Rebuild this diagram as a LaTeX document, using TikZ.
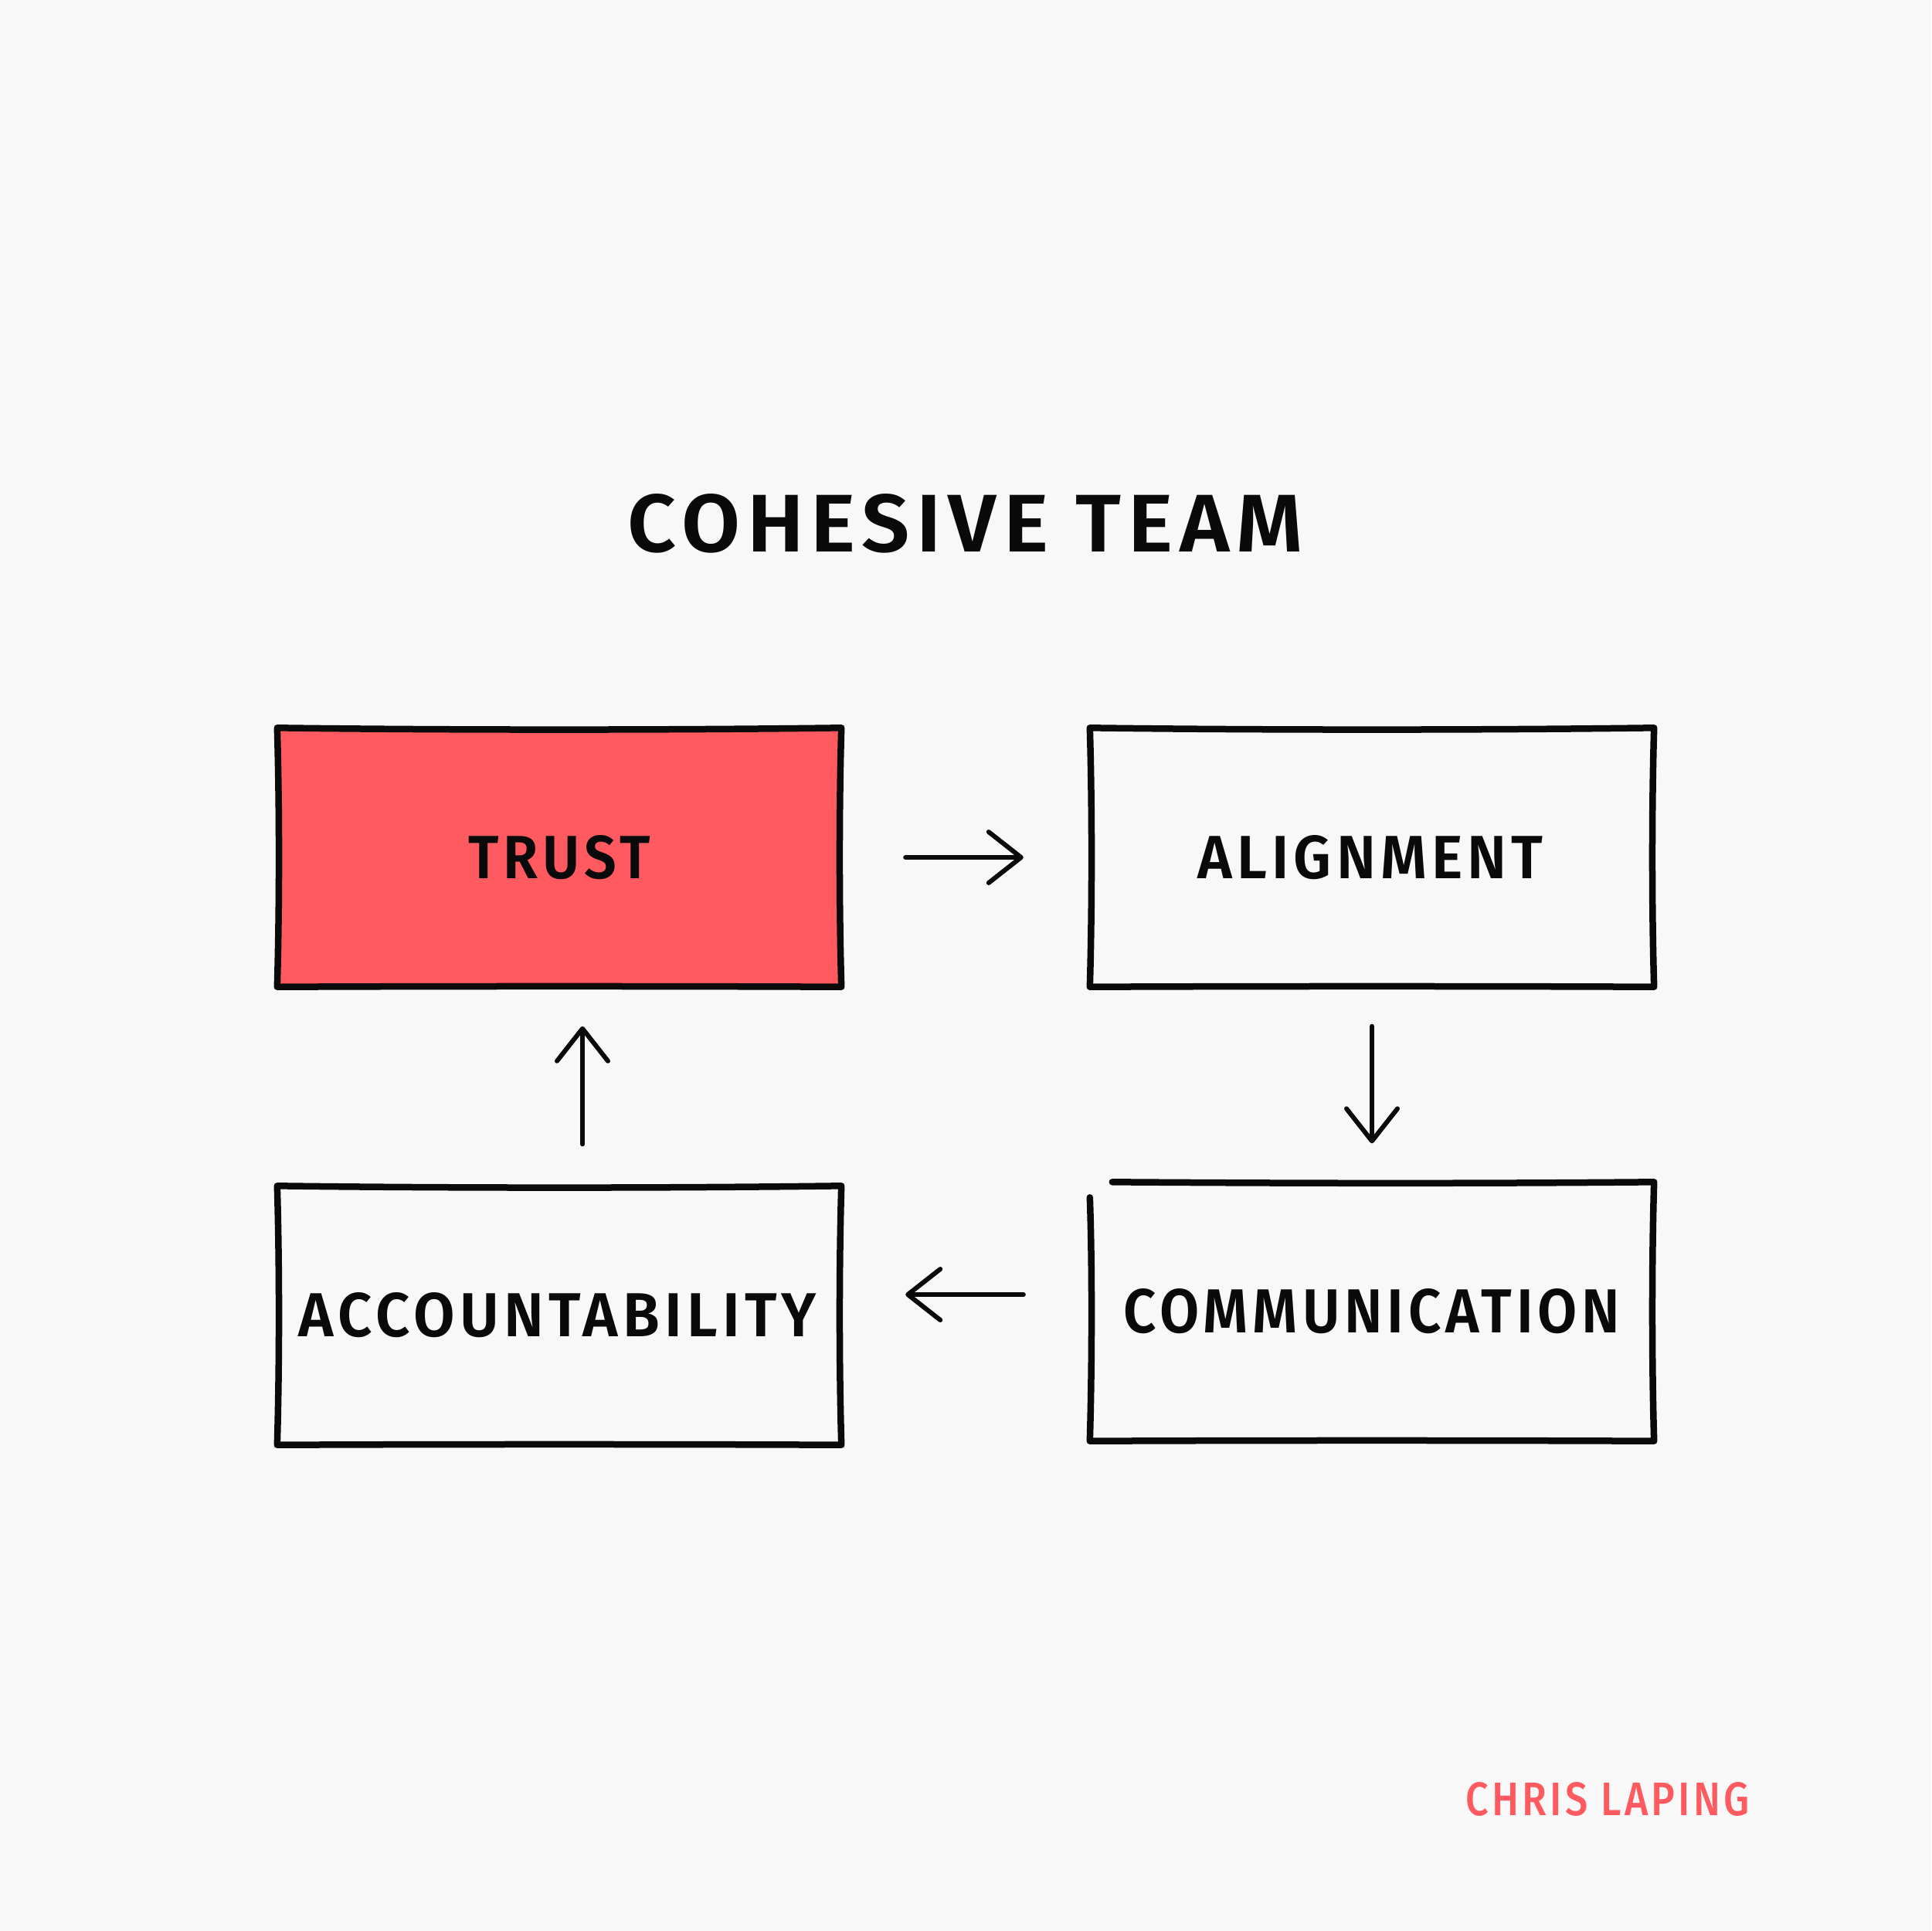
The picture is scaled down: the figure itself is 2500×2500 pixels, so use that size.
\documentclass[tikz,border=0pt]{standalone}
\usepackage{fontspec}
\setmainfont[LetterSpace=8,BoldFont={Fira Sans SemiBold}]{Fira Sans}
\newfontfamily\authorfont[LetterSpace=8]{Fira Sans Medium}
\usetikzlibrary{arrows.meta,calc}
\definecolor{bg}{HTML}{F8F8F8}
\definecolor{trustred}{HTML}{FF5A5F}
\definecolor{ink}{HTML}{0A0A0A}
\tikzset{
  boxnode/.style={rectangle, minimum width=730pt, minimum height=335pt, inner sep=0pt, text=ink},
  boxline/.style={draw=ink, line width=8.5pt, line cap=round, line join=round},
  flowarrow/.style={draw=ink, line width=6pt, line cap=round,
    -{Straight Barb[length=42pt, width=66pt, line width=6pt, round]}},
}
\newcommand\lbl[3]{\resizebox{#1pt}{#2pt}{\fontsize{60}{60}\selectfont\bfseries #3}}
\newcommand\sketchbox[2]{%
  \path[boxline,fill=#2] (#1.north west)
    .. controls ($(#1.north west)!0.3!(#1.north east)+(0,3)$) and ($(#1.north west)!0.7!(#1.north east)+(0,3)$) .. (#1.north east)
    .. controls ($(#1.north east)!0.3!(#1.south east)+(-3,0)$) and ($(#1.north east)!0.7!(#1.south east)+(-3,0)$) .. (#1.south east)
    .. controls ($(#1.south east)!0.3!(#1.south west)+(0,-1)$) and ($(#1.south east)!0.7!(#1.south west)+(0,-1)$) .. (#1.south west)
    .. controls ($(#1.south west)!0.3!(#1.north west)+(3,0)$) and ($(#1.south west)!0.7!(#1.north west)+(3,0)$) .. cycle;}
\begin{document}
\begin{tikzpicture}[x=1pt,y=-1pt]
\fill[bg] (0,0) rectangle (2500,2500);
\useasboundingbox (0,0) rectangle (2500,2500);

\node[text=ink] (title) at (1250,678) {\lbl{874}{75}{COHESIVE TEAM}};

\node[boxnode] (trust) at (724,1110) {};
\node[boxnode] (align) at (1776,1110) {};
\node[boxnode] (comm) at (1776,1698) {};
\node[boxnode] (acct) at (724,1703) {};

\sketchbox{trust}{trustred}
\sketchbox{align}{bg}
\fill[bg] (comm.north west) rectangle (comm.south east);
\draw[boxline] ([xshift=29pt]comm.north west)
  .. controls ($(comm.north west)!0.4!(comm.north east)+(0,2)$) and ($(comm.north west)!0.7!(comm.north east)+(0,2)$) .. (comm.north east)
  .. controls ($(comm.north east)!0.3!(comm.south east)+(-3,0)$) and ($(comm.north east)!0.7!(comm.south east)+(-3,0)$) .. (comm.south east)
  .. controls ($(comm.south east)!0.3!(comm.south west)+(0,-1)$) and ($(comm.south east)!0.7!(comm.south west)+(0,-1)$) .. (comm.south west)
  .. controls ($(comm.south west)!0.3!(comm.north west)+(3,0)$) and ($(comm.south west)!0.7!(comm.north west)+(3,0)$) .. ([yshift=-20pt]comm.north west);
\sketchbox{acct}{bg}

\node[text=ink] (trusttxt) at (trust.center) {\lbl{235}{56}{TRUST}};
\node[text=ink] (aligntxt) at (1774,1110) {\lbl{447}{56}{ALIGNMENT}};
\node[text=ink] (commtxt) at (1776,1698) {\lbl{643}{57}{COMMUNICATION}};
\node[text=ink] (accttxt) at (722,1703) {\lbl{670}{57}{ACCOUNTABILITY}};

\draw[flowarrow, shorten <=83pt, shorten >=86pt] (trust.east) -- (align.west);
\draw[flowarrow, shorten <=51pt, shorten >=50pt] (align.south) -- (comm.north);
\draw[flowarrow, shorten <=86pt, shorten >=83pt] ([yshift=22pt]comm.west) -- ([yshift=27pt]acct.east);
\draw[flowarrow, shorten <=54pt, shorten >=51pt] ([xshift=30pt]acct.north) -- ([xshift=30pt]trust.south);

\node[text=trustred] (author) at (2081,2329) {\resizebox{367pt}{43pt}{\fontsize{60}{60}\authorfont CHRIS LAPING}};
\end{tikzpicture}
\end{document}
